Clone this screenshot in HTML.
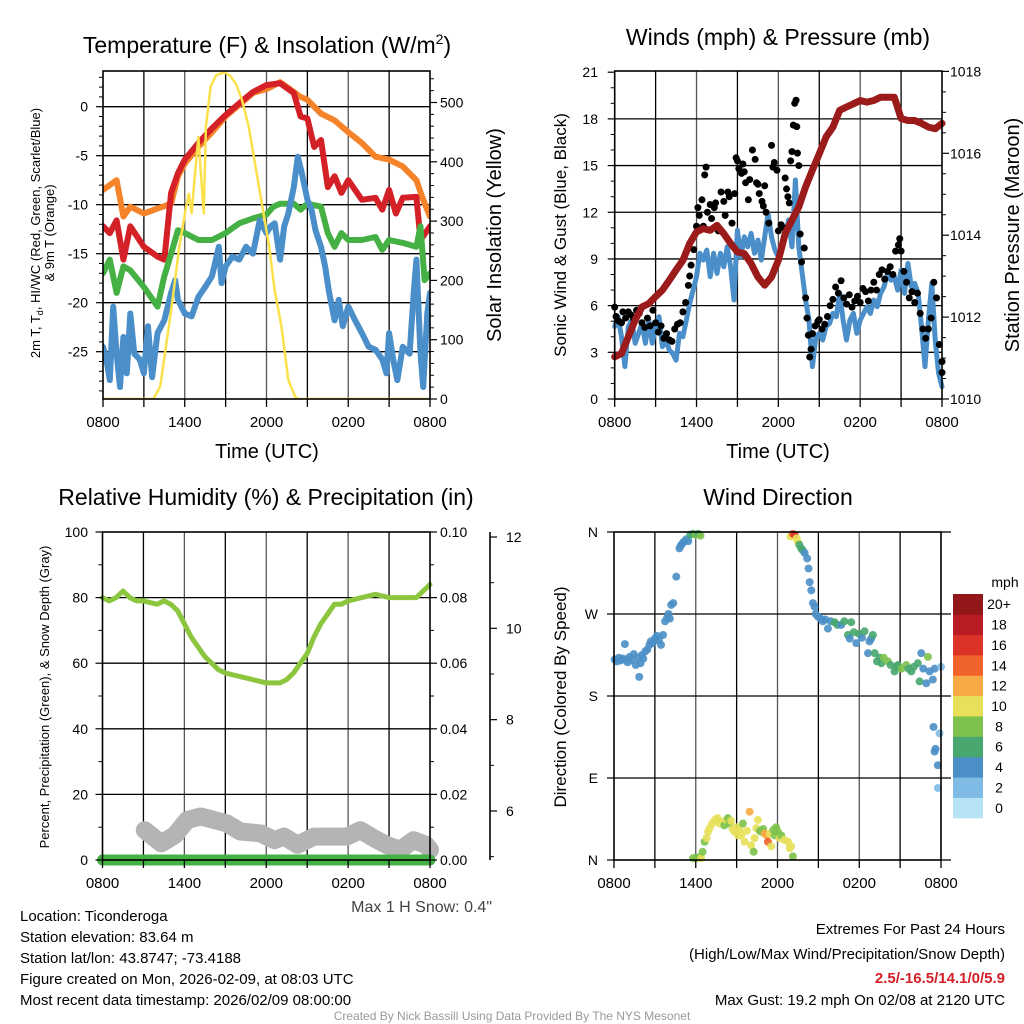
<!DOCTYPE html>
<html><head><meta charset="utf-8"><style>
body{margin:0;background:#fff}
svg{display:block;font-family:"Liberation Sans",sans-serif}
</style></head><body>
<svg id="s" width="1024" height="1024" viewBox="0 0 1024 1024">
<g id="grids"></g><g id="marks"></g><g id="frames"></g><g id="txt"></g>
</svg>
<script>
// ---- Data (hours since 0800 UTC) ----
const xTickLabels = ["0800","1400","2000","0200","0800"];
const orangeH = [0,0.5,1,1.5,2,3,4,5,5.5,6,7,8,9,10,11,12,13,14,14.5,15,16,17,18,19,20,21,22,23,23.5,24];
const orangeT = [-8.5,-8.0,-7.5,-11.2,-10.2,-10.9,-10.4,-9.9,-7.1,-5.8,-4.1,-2.6,-1.0,0.2,1.4,1.8,2.5,1.5,1.0,0.7,-0.7,-1.4,-2.6,-3.7,-5.1,-5.4,-6.1,-7.5,-9.5,-11.2];
const redH = [0,0.5,1,1.5,2,3,4,4.5,5,5.5,6,7,8,9,10,11,12,13,14,14.5,15,15.5,16,16.5,17,17.5,18,19,20,20.5,21,21.5,22,23,23.3,24];
const redT = [-12.2,-12.9,-11.6,-15.6,-12.2,-14.3,-15.3,-15.6,-8.8,-6.8,-5.4,-3.7,-2.2,-0.85,0.35,1.5,2.2,2.4,1.4,-1.0,-1.2,-4.1,-3.4,-8.2,-7.1,-8.8,-7.5,-9.5,-9.3,-10.5,-8.5,-10.9,-9.3,-9.2,-13.6,-12.2];
const greenH = [0,0.5,1,1.5,2,3,4,4.5,5,5.5,6,7,8,9,10,11,12,12.5,13,14,14.5,15,16,16.5,17,17.5,18,19,20,20.5,21,22,23,23.3,23.6,24];
const greenT = [-17.0,-15.6,-19.0,-16.3,-16.7,-18.4,-20.4,-17.3,-15.0,-12.6,-12.9,-13.6,-13.6,-12.9,-11.9,-11.4,-11.0,-10.2,-9.9,-9.9,-10.5,-9.9,-10.2,-12.9,-14.3,-12.9,-13.6,-13.6,-13.3,-14.6,-13.6,-13.9,-14.3,-12.2,-17.7,-17.0];
const blueH = [0,0.25,0.5,0.75,1,1.25,1.5,1.75,2,2.3,2.7,3,3.3,3.6,4,4.5,5,5.3,5.5,6,6.5,7,7.5,8,8.5,8.7,9,9.5,10,10.5,11,11.5,12,12.3,12.6,13,13.3,13.6,14,14.3,14.6,15,15.3,15.6,16,16.3,16.6,17,17.3,17.6,18,18.5,19,19.5,20,20.5,20.8,21,21.3,21.6,22,22.5,22.8,23,23.3,23.5,23.8,24];
const blueT = [-24.5,-25.8,-27.9,-20.4,-25.2,-28.6,-23.5,-27.2,-21.1,-25.2,-25.8,-27.2,-22.4,-27.6,-23.1,-21.8,-19.0,-17.7,-19.7,-21.1,-21.4,-19.4,-18.4,-17.3,-14.3,-18.0,-16.3,-15.3,-15.6,-14.3,-15.0,-11.6,-12.9,-12.2,-11.9,-15.6,-12.2,-10.9,-8.2,-5.1,-6.8,-9.5,-10.5,-12.6,-14.3,-16.3,-19.0,-21.8,-19.7,-22.4,-20.4,-21.8,-23.1,-24.5,-24.8,-25.8,-27.2,-23.1,-25.8,-27.9,-24.5,-25.2,-19.0,-15.6,-25.2,-28.6,-21.1,-19.0];
const solarH = [0,3.7,4.2,4.65,5.1,5.6,6.1,6.3,6.5,6.8,7.0,7.2,7.4,7.55,7.9,8.3,8.9,9.3,9.75,10.2,10.7,11.2,11.7,12.2,12.6,13.1,13.6,14.1,14.3,24];
const solarW = [0,0,21,94,167,257,324,346,313,391,442,375,313,459,527,546,551,546,532,504,459,391,324,257,183,122,32,4,0,0];

const windH = [0,0.25,0.5,0.75,1,1.25,1.5,2,2.25,2.5,2.75,3,3.25,3.5,3.75,4,4.25,4.5,4.75,5,5.25,5.5,5.75,6,6.25,6.5,6.75,7,7.25,7.5,7.75,8,8.25,8.5,8.75,9,9.25,9.5,9.75,10,10.25,10.5,10.75,11,11.25,11.5,11.75,12,12.25,12.5,12.75,13,13.25,13.5,13.75,14,14.25,14.5,14.75,15,15.25,15.5,15.75,16,16.25,16.5,16.75,17,17.25,17.5,17.75,18,18.25,18.5,18.75,19,19.25,19.5,19.75,20,20.25,20.5,20.75,21,21.25,21.5,21.75,22,22.25,22.5,22.75,23,23.25,23.5,23.75,24];
const windS = [4.65,5.29,4.0,2.08,4.65,5.07,3.58,4.86,3.58,5.07,3.58,4.65,5.29,3.36,3.79,3.15,2.93,2.5,4.22,4.0,5.07,6.14,7.0,7.86,9.36,8.93,9.57,7.86,9.36,8.07,9.36,8.5,9.78,8.5,6.36,10.85,9.14,10.42,9.78,10.64,9.36,10.21,8.93,10.42,11.93,10.42,9.57,9.14,9.78,10.42,11.5,9.78,14.07,9.78,8.07,6.36,5.07,2.08,4.0,4.22,3.79,4.65,4.86,5.5,5.29,6.79,5.07,3.79,5.07,5.5,4.22,5.07,5.5,5.93,5.5,6.36,5.93,6.79,7.21,8.07,7.64,7.86,7.0,8.29,6.79,8.71,7.21,7.43,6.79,4.65,2.08,5.07,7.43,3.79,1.65,0.79];
const gustH = [0.0,0.1,0.3,0.5,0.6,0.8,1.0,1.2,1.4,1.6,1.8,2.0,2.2,2.4,2.6,2.8,3.0,3.2,3.4,3.6,3.8,4.0,4.2,4.4,4.6,4.8,5.0,5.2,5.4,5.5,5.6,5.8,6.0,6.1,6.2,6.4,6.5,6.6,6.7,6.8,7.0,7.1,7.3,7.4,7.6,7.8,8.0,8.1,8.3,8.4,8.6,8.8,8.9,9.0,9.1,9.3,9.4,9.5,9.6,9.8,9.9,10.1,10.3,10.4,10.5,10.6,10.8,10.9,11.0,11.1,11.3,11.5,11.6,11.7,11.9,12.0,12.2,12.4,12.5,12.6,12.7,12.8,12.9,13.0,13.1,13.2,13.3,13.35,13.4,13.5,13.6,13.7,13.9,14.0,14.1,14.2,14.3,14.4,14.5,14.7,14.9,15.0,15.2,15.4,15.6,15.8,16.0,16.2,16.4,16.6,16.8,17.0,17.2,17.4,17.6,17.8,18.0,18.2,18.4,18.6,18.8,19.0,19.2,19.4,19.6,19.8,20.0,20.2,20.4,20.6,20.8,20.9,21.0,21.2,21.4,21.6,21.8,22.0,22.2,22.4,22.6,22.8,23.0,23.2,23.4,23.6,23.8,24.0,24.0];
const gustS = [5.9,5.3,5.0,4.9,5.6,5.2,5.6,5.4,5.1,5.7,5.5,4.9,4.6,5.2,4.7,5.7,4.9,4.3,4.7,3.9,4.2,3.8,3.7,4.5,4.8,4.9,5.6,6.2,7.3,7.9,8.6,9.6,11.1,12.3,11.8,12.8,11.1,14.4,14.9,12.0,12.5,11.6,12.3,12.6,10.8,13.3,12.7,11.8,13.3,13.0,11.3,13.2,15.5,15.3,14.8,14.5,15.1,14.6,13.9,12.8,14.1,16.0,15.4,13.9,13.8,13.2,12.7,12.4,13.7,12.0,11.3,16.3,14.9,15.2,14.7,10.8,11.2,11.0,14.2,13.5,13.0,12.6,15.3,15.9,17.6,19.0,19.2,17.5,15.8,15.0,10.6,8.8,9.7,6.5,5.2,4.1,2.7,3.2,4.2,4.7,5.0,5.1,4.5,4.8,5.3,6.0,6.4,7.2,6.8,7.6,6.5,6.1,6.7,5.9,6.3,6.6,6.2,7.1,6.9,6.3,7.0,7.5,7.0,8.0,8.3,7.7,8.2,8.5,8.0,9.5,9.9,10.3,9.5,8.2,7.5,6.5,6.9,6.2,6.8,5.5,4.5,3.9,4.5,5.2,7.5,6.5,3.5,1.7,2.4];
const presH = [0,0.5,1,1.5,2,2.5,3,3.5,4,4.5,5,5.5,6,6.5,7,7.5,8,8.5,9,9.5,10,10.5,11,11.5,12,12.5,13,13.5,14,14.5,15,15.5,16,16.5,17,17.5,18,18.5,19,19.5,20,20.5,21,21.5,22,22.5,23,23.5,24];
const presMb = [1011.03,1011.11,1011.52,1011.93,1012.25,1012.33,1012.50,1012.66,1012.90,1013.15,1013.39,1013.80,1014.08,1014.16,1014.12,1014.24,1014.04,1013.80,1013.59,1013.55,1013.31,1012.98,1012.78,1012.98,1013.39,1014.04,1014.37,1014.69,1015.18,1015.59,1015.99,1016.40,1016.64,1017.05,1017.13,1017.21,1017.29,1017.25,1017.29,1017.37,1017.37,1017.37,1016.85,1016.80,1016.80,1016.73,1016.64,1016.60,1016.73];

const rhH = [0,0.5,1,1.5,2,2.5,3,4,4.5,5,5.5,6,6.5,7,7.5,8,8.5,9,10,11,12,13,13.5,14,14.5,15,15.5,16,16.5,17,17.5,18,19,20,21,22,23,23.5,24];
const rhPct = [80,79,80,82,80,79,79,78,79,78,76,72,68,65,62,60,58,57,56,55,54,54,55,57,60,63,68,72,75,78,78,79,80,81,80,80,80,82,84];
const precipH = [0,24];
const precipIn = [0,0];
const snowH = [3.1,4.3,5.3,6.2,7.2,8.2,9.1,10.1,11.6,12.6,13.3,14.3,15.5,16.9,17.9,18.9,19.9,20.8,21.8,22.8,23.7,24];
const snowIn = [5.58,5.29,5.47,5.80,5.88,5.80,5.73,5.55,5.51,5.36,5.44,5.26,5.44,5.44,5.44,5.58,5.40,5.26,5.15,5.36,5.26,5.15];

const dirH = [0.05,0.2,0.35,0.5,0.65,0.8,0.9,1.0,1.15,1.3,1.45,1.6,1.75,1.85,1.95,2.05,2.15,2.3,2.45,2.6,2.7,2.85,3.0,3.15,3.3,3.45,3.6,3.75,3.9,4.0,4.1,4.2,4.35,4.57,4.8,4.9,5.0,5.1,5.3,5.45,5.6,5.8,6.0,6.2,6.35,
 5.8,6.0,6.2,6.4,6.5,6.65,6.8,6.9,7.02,7.2,7.4,7.6,7.75,7.9,8.1,8.25,8.36,8.49,8.6,8.7,8.85,9.0,9.1,9.2,9.34,9.46,9.59,9.75,9.95,10.07,10.25,10.32,10.45,10.56,10.7,10.81,10.95,11.05,11.2,11.3,11.45,11.54,11.7,11.79,11.9,12.03,12.15,12.28,12.5,12.77,12.89,13.0,13.13,
 12.95,13.13,13.26,13.4,13.5,13.6,13.74,13.85,13.99,14.18,14.28,14.36,14.48,14.6,14.72,14.8,14.97,15.15,15.33,15.5,15.7,15.9,16.19,16.4,16.68,16.9,17.17,17.3,17.41,17.6,17.78,18.0,18.2,18.39,18.64,18.75,18.88,19.0,19.13,19.3,19.5,19.62,19.8,20.1,20.3,20.59,20.7,20.84,21.1,21.45,21.6,21.82,22.0,22.3,22.43,22.55,22.7,22.92,23.04,23.16,23.4,23.53,24.0,23.45,23.89,23.53,23.6,23.77,23.77];
const dirDeg = [220,218,222,219,221,237,220,217,223,219,226,214,222,201,216,225,221,229,231,236,240,238,243,246,241,236,247,262,266,270,265,280,282,311,342,345,347,349,352,350,357,358,357,358,356,
 2,2,3,2,9,20,24,31,35,40,44,46,40,42,38,44,46,40,43,34,31,36,27,33,27,40,20,32,53,16,9,24,35,44,32,31,34,29,27,20,29,15,33,27,36,31,24,27,22,20,13,15,4,
 355,358,357,353,349,346,342,340,337,331,320,305,296,282,278,270,267,265,262,264,254,262,261,258,258,262,247,243,261,250,238,248,244,251,227,240,243,247,227,218,222,216,222,218,214,207,212,214,210,214,210,207,212,216,196,227,210,194,223,207,198,210,212,146,139,119,122,104,79];
const dirSpd = [4,4,4,4,4,3,4,4,4,4,4,4,4,3,4,4,4,4,4,4,4,4,4,4,3,3,4,3,3,3,4,4,4,3,4,3,4,4,4,4,6,6,8,6,8,
 8,8,8,9,8,8,9,9,10,10,9,9,10,10,7,9,8,7,10,9,10,10,10,10,10,7,10,10,11,10,8,10,10,10,7,8,7,12,12,13,10,10,7,7,8,7,10,7,10,10,10,9,7,
 10,14,15,10,10,6,6,6,4,4,4,3,3,3,3,3,4,4,4,4,4,4,6,6,4,6,6,4,6,6,4,6,4,6,4,4,4,6,6,6,6,6,8,8,6,6,6,6,8,8,6,6,6,6,6,4,4,4,8,3,4,4,2,3,1,4,3,3,1];
const cbLabels = ["0","2","4","6","8","10","12","14","16","18","20+"];
const cbColors = ["#b6e3f8","#7fbbe5","#4a8fc7","#48a76f","#7dc24c","#e7e05a","#f6aa45","#ef6229","#dc3329","#b91d24","#911719"];

// ---- helpers ----
const NS="http://www.w3.org/2000/svg";
const G={grids:document.getElementById('grids'),marks:document.getElementById('marks'),frames:document.getElementById('frames'),txt:document.getElementById('txt')};
function el(tag,attrs,parent){const e=document.createElementNS(NS,tag);for(const k in attrs)e.setAttribute(k,attrs[k]);(parent||G.marks).appendChild(e);return e;}
function lin(d0,d1,r0,r1){return v=>r0+(v-d0)*(r1-r0)/(d1-d0);}
function text(str,x,y,size,anchor,parent,extra){const t=el('text',Object.assign({x:x,y:y,'font-size':size,'text-anchor':anchor||'middle',fill:'#000'},extra||{}),parent||G.txt);t.textContent=str;return t;}
function pathD(xs,ys,fx,fy){return xs.map((h,i)=>(i?'L':'M')+fx(h).toFixed(1)+','+fy(ys[i]).toFixed(1)).join('');}

function panel(x0,x1,y0,y1,name){
  const xs=lin(0,24,x0,x1);
  for(let h=3;h<24;h+=3){el('line',{x1:xs(h),x2:xs(h),y1:y0,y2:y1,stroke:(h%6==0)?'#555':'#000','stroke-width':1.3},G.grids);}
  const f=el('rect',{x:x0,y:y0,width:x1-x0,height:y1-y0,fill:'none',stroke:'#000','stroke-width':1.6},G.frames);
  
  
  for(let h=0;h<=24;h+=3){el('line',{x1:xs(h),x2:xs(h),y1:y1,y2:y1+8,stroke:'#000','stroke-width':1.3},G.frames);}
  xTickLabels.forEach((lab,i)=>{const t=text(lab,xs(i*6),y1+28,15);});
  return xs;
}
function hgrid(ys,vals,x0,x1){vals.forEach(v=>el('line',{x1:x0,x2:x1,y1:ys(v),y2:ys(v),stroke:'#000','stroke-width':1.3},G.grids));}
function ticks(ys,vals,x,dir,len,labels,lx,anchor){vals.forEach((v,i)=>{el('line',{x1:x,x2:x+dir*len,y1:ys(v),y2:ys(v),stroke:'#000','stroke-width':1.2},G.frames);if(labels&&labels[i]!==''){const t=text(labels[i],lx,ys(v)+5,14,anchor);}});}
function minor(ys,vals,x,dir){vals.forEach(v=>el('line',{x1:x,x2:x+dir*4,y1:ys(v),y2:ys(v),stroke:'#000','stroke-width':1},G.frames));}
function line(xs,ys,H,V,color,w,name){const p=el('path',{d:pathD(H,V,xs,ys),fill:'none',stroke:color,'stroke-width':w,'stroke-linejoin':'round','stroke-linecap':'round'});return p;}
function range(a,b,s){const r=[];for(let v=a;v<=b+1e-9;v+=s)r.push(+v.toFixed(4));return r;}

// ---- Panel 1 ----
{const x0=103,x1=430,y0=71,y1=399;
 const xs=panel(x0,x1,y0,y1,'temperature-panel');
 const yT=lin(0,-25,106.7,351.7), yS=lin(0,500,399,102.5);
 hgrid(yT,[0,-5,-10,-15,-20,-25],x0,x1);
 ticks(yT,[0,-5,-10,-15,-20,-25],x0,-1,7,["0","-5","-10","-15","-20","-25"],88,'end');
 minor(yT,range(-29,3,1).filter(v=>v%5),x0,-1);
 ticks(yS,[0,100,200,300,400,500],x1,1,7,["0","100","200","300","400","500"],440,'start');
 minor(yS,range(20,540,20).filter(v=>v%100),x1,1);
 const cp=el('clipPath',{id:'c1'});el('rect',{x:x0,y:y0,width:x1-x0,height:y1-y0},cp);
 const g=el('g',{'clip-path':'url(#c1)'});
 [[orangeH,orangeT,'#f5832a','nine-m-temp-line'],[redH,redT,'#d42027','two-m-temp-line'],[greenH,greenT,'#45b044','dewpoint-line'],[blueH,blueT,'#4a8fc9','wind-chill-line']].forEach(s=>{g.appendChild(line(xs,yT,s[0],s[1],s[2],6,s[3]));});
 g.appendChild(line(xs,yS,solarH,solarW,'#fbe14b',2.5,'solar-insolation-line'));
}
// ---- Panel 2 ----
{const x0=614.7,x1=942,y0=71,y1=399;
 const xs=panel(x0,x1,y0,y1,'wind-panel');
 const yW=lin(0,21,399,72.2), yP=lin(1010,1018,399,71.4);
 hgrid(yW,[3,6,9,12,15,18],x0,x1);
 ticks(yW,[0,3,6,9,12,15,18,21],x0,-1,7,["0","3","6","9","12","15","18","21"],598,'end');
 minor(yW,range(1,20,1).filter(v=>v%3),x0,-1);
 ticks(yP,[1010,1012,1014,1016,1018],x1,1,7,["1010","1012","1014","1016","1018"],950,'start');
 minor(yP,range(1010.5,1017.5,0.5).filter(v=>v%2),x1,1);
 line(xs,yW,windH,windS,'#4a8fc9',5,'sonic-wind-line');
 gustH.forEach((h,i)=>{const c=el('circle',{cx:xs(h),cy:yW(gustS[i]),r:3.5,fill:'#000'});
   
   });
 line(xs,yP,presH,presMb,'#9b1b1b',7,'pressure-line');
}
// ---- Panel 3 ----
{const x0=102.5,x1=430,y0=532,y1=860;
 const xs=panel(x0,x1,y0,y1,'humidity-panel');
 const yR=lin(0,100,860,532), yPr=lin(0,0.1,860,532), ySn=lin(6,12,811,537);
 hgrid(yR,[20,40,60,80],x0,x1);
 ticks(yR,[0,20,40,60,80,100],x0,-1,7,["0","20","40","60","80","100"],88,'end');
 minor(yR,range(10,90,20),x0,-1);
 ticks(yPr,[0,0.02,0.04,0.06,0.08,0.10],x1,1,7,["0.00","0.02","0.04","0.06","0.08","0.10"],440,'start');
 minor(yPr,[0.01,0.03,0.05,0.07,0.09],x1,1);
 el('line',{x1:490,x2:490,y1:532,y2:860,stroke:'#000','stroke-width':1.6},G.frames);
 ticks(ySn,[6,8,10,12],490,1,7,["6","8","10","12"],506,'start');
 minor(ySn,[5,7,9,11],490,1);
 line(xs,ySn,snowH,snowIn,'#b4b4b4',18,'snow-depth-line');
 line(xs,yR,rhH,rhPct,'#8cc63f',5,'relative-humidity-line');
 line(xs,yPr,precipH,precipIn,'#45b044',11,'precipitation-line');
 const t=text('Max 1 H Snow: 0.4"',492,912,16,'end',null,{fill:'#444'});
}
// ---- Panel 4 ----
{const x0=614,x1=941,y0=532,y1=860;
 const xs=panel(x0,x1,y0,y1,'direction-panel');
 const yD=lin(0,360,860,532);
 [90,180,270].forEach(v=>el('line',{x1:x0,x2:x1+10,y1:yD(v),y2:yD(v),stroke:'#000','stroke-width':1.3},G.grids));
 el('line',{x1:x1,x2:x1+10,y1:y0,y2:y0,stroke:'#000','stroke-width':1.3},G.grids);
 el('line',{x1:x1,x2:x1+10,y1:y1,y2:y1,stroke:'#000','stroke-width':1.3},G.grids);
 ticks(yD,[0,90,180,270,360],x0,-1,7,["N","E","S","W","N"],598,'end');
 dirH.forEach((h,i)=>{const idx=Math.min(10,Math.round(dirSpd[i]/2));
   const c=el('circle',{cx:xs(h),cy:yD(dirDeg[i]),r:4,fill:cbColors[idx],'fill-opacity':0.9});
   
   });
 const bw=30,bx=953,bh=(818-594)/11;
 cbLabels.forEach((lab,i)=>{const r=el('rect',{x:bx,y:818-(i+1)*bh,width:bw,height:bh+0.3,fill:cbColors[i]});
   
   
   const t=text(lab,999,818-(i+0.5)*bh+5,14,'middle');
   
   });
 const m=text('mph',1005,587,14,'middle');
}
</script>
<div style="position:absolute;left:0;top:0;width:1024px;height:1024px;pointer-events:none;font-family:'Liberation Sans',sans-serif">
<svg width="1024" height="1024" style="position:absolute;left:0;top:0">
 <text x="267" y="53" font-size="23" text-anchor="middle">Temperature (F) &amp; Insolation (W/m<tspan font-size="14" dy="-9">2</tspan><tspan dy="9">)</tspan></text>
 <text x="778" y="45" font-size="23" text-anchor="middle">Winds (mph) &amp; Pressure (mb)</text>
 <text x="266" y="505" font-size="23" text-anchor="middle">Relative Humidity (%) &amp; Precipitation (in)</text>
 <text x="778" y="505" font-size="23" text-anchor="middle">Wind Direction</text>
 <text x="267" y="458" font-size="20" text-anchor="middle">Time (UTC)</text>
 <text x="778" y="458" font-size="20" text-anchor="middle">Time (UTC)</text>
 <g transform="translate(40,233) rotate(-90)" font-size="13" text-anchor="middle">
  <text x="0" y="0">2m T, T<tspan font-size="9" dy="3">d</tspan><tspan dy="-3">, HI/WC (Red, Green, Scarlet/Blue)</tspan></text>
  <text x="0" y="14">&amp; 9m T (Orange)</text></g>
 <text transform="translate(501,235) rotate(-90)" font-size="20" text-anchor="middle">Solar Insolation (Yellow)</text>
 <text transform="translate(566,235) rotate(-90)" font-size="17" text-anchor="middle">Sonic Wind &amp; Gust (Blue, Black)</text>
 <text transform="translate(1019,235) rotate(-90)" font-size="20" text-anchor="middle">Station Pressure (Maroon)</text>
 <text transform="translate(49,697) rotate(-90)" font-size="13" text-anchor="middle">Percent, Precipitation (Green), &amp; Snow Depth (Gray)</text>
 <text transform="translate(566,697) rotate(-90)" font-size="17" text-anchor="middle">Direction (Colored By Speed)</text>
 <g font-size="15">
  <text x="20" y="921">Location: Ticonderoga</text>
  <text x="20" y="942">Station elevation: 83.64 m</text>
  <text x="20" y="963">Station lat/lon: 43.8747; -73.4188</text>
  <text x="20" y="984">Figure created on Mon, 2026-02-09, at 08:03 UTC</text>
  <text x="20" y="1005">Most recent data timestamp: 2026/02/09 08:00:00</text>
 </g>
 <g font-size="15" text-anchor="end">
  <text x="1005" y="934">Extremes For Past 24 Hours</text>
  <text x="1005" y="959">(High/Low/Max Wind/Precipitation/Snow Depth)</text>
  <text x="1005" y="983" fill="#d42027" font-weight="bold">2.5/-16.5/14.1/0/5.9</text>
  <text x="1005" y="1005">Max Gust: 19.2 mph On 02/08 at 2120 UTC</text>
 </g>
 <text x="512" y="1020" font-size="12" fill="#999" text-anchor="middle">Created By Nick Bassill Using Data Provided By The NYS Mesonet</text>
</svg></div>
</body></html>
